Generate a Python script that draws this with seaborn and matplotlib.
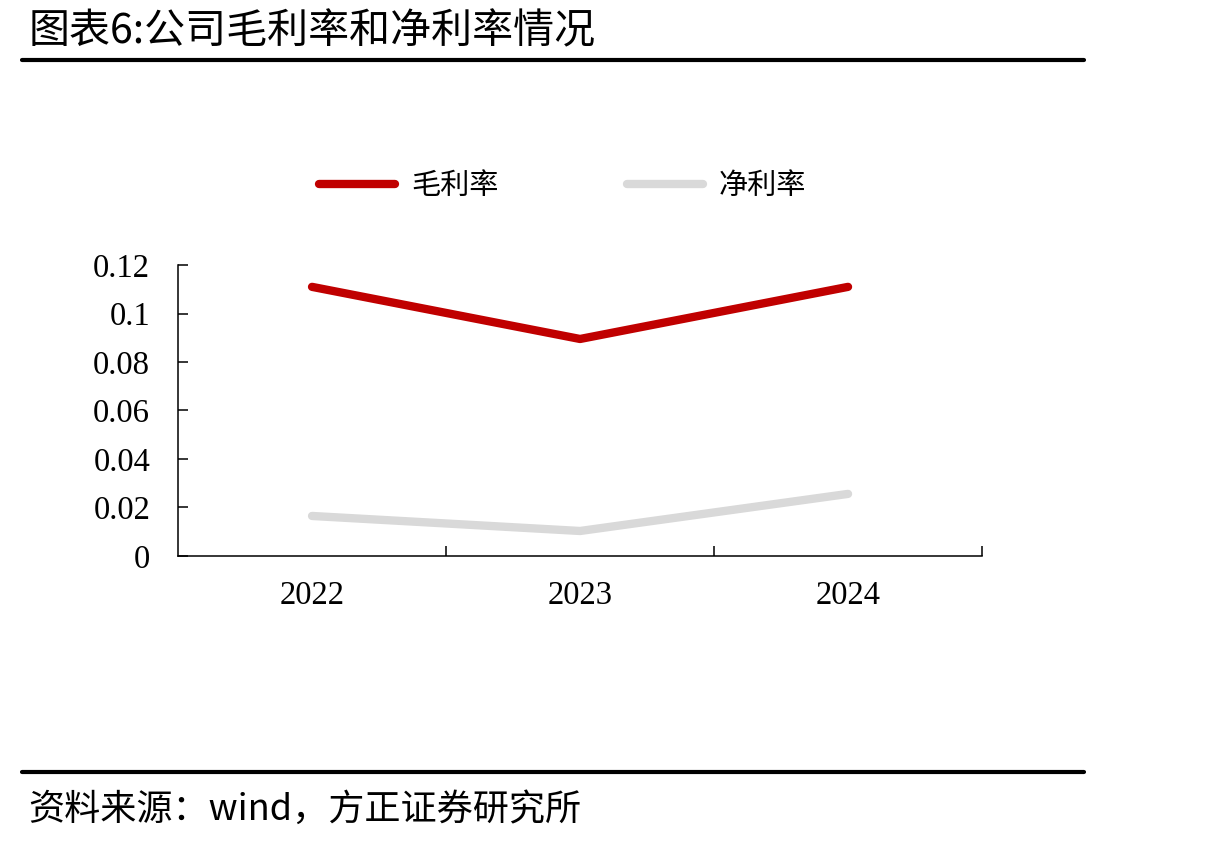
import matplotlib
matplotlib.use("Agg")
import matplotlib.pyplot as plt
import seaborn as sns
import pandas as pd
from matplotlib.lines import Line2D

years = ["2022", "2023", "2024"]
gross_margin = [0.111, 0.0895, 0.111]
net_margin = [0.0165, 0.0103, 0.0256]
series_names = ["毛利率", "净利率"]
colors = ["#C00000", "#D9D9D9"]
yticks = [0, 0.02, 0.04, 0.06, 0.08, 0.1, 0.12]
ytick_labels = ["0", "0.02", "0.04", "0.06", "0.08", "0.1", "0.12"]

title = "图表6:公司毛利率和净利率情况"
source = "资料来源：wind，方正证券研究所"

sns.set_style("white")
plt.rcParams['font.family'] = ['Noto Sans CJK SC', 'DejaVu Sans']
plt.rcParams['text.color'] = 'black'
plt.rcParams['xtick.color'] = 'black'
plt.rcParams['ytick.color'] = 'black'
plt.rcParams['xtick.labelcolor'] = 'black'
plt.rcParams['ytick.labelcolor'] = 'black'

df = pd.DataFrame({
    "year": years * 2,
    "value": gross_margin + net_margin,
    "series": [series_names[0]] * 3 + [series_names[1]] * 3,
})

fig = plt.figure(figsize=(12.21, 8.43), dpi=100)
ax = fig.add_axes([0.1458, 0.3405, 0.8043 - 0.1458, 0.6856 - 0.3405])

sns.lineplot(data=df, x="year", y="value", hue="series",
             palette=dict(zip(series_names, colors)), linewidth=6,
             ax=ax, legend=False, sort=False)
for ln in ax.get_lines():
    ln.set_solid_capstyle("round")
    ln.set_solid_joinstyle("round")

ax.set_xlim(-0.5, 2.5)
ax.set_ylim(0, 0.12)
ax.set_xlabel("")
ax.set_ylabel("")
ax.set_yticks(yticks)
ax.set_yticklabels(ytick_labels, fontfamily="Liberation Serif", fontsize=23.5, color="black")
ax.set_xticks(range(len(years)))
ax.set_xticklabels(years, fontfamily="Liberation Serif", fontsize=23.5, color="black")
ax.set_xticks([0.5, 1.5, 2.5], minor=True)
ax.tick_params(axis="x", which="major", length=0, pad=18, bottom=True)
ax.tick_params(axis="x", which="minor", direction="in", length=7, width=1.1,
               color="black", bottom=True)
ax.tick_params(axis="y", direction="in", length=7, width=1.1, color="black", pad=20, left=True)
for s in ["top", "right"]:
    ax.spines[s].set_visible(False)
for s in ["left", "bottom"]:
    ax.spines[s].set_color("black")
    ax.spines[s].set_linewidth(1.1)

handles = [Line2D([0], [0], color=c, lw=6, solid_capstyle="round") for c in colors]
fig.legend(handles, series_names, loc="center", bbox_to_anchor=(0.461, 0.779),
           ncol=2, frameon=False, fontsize=21, handlelength=2.6,
           handletextpad=0.55, columnspacing=4.4, labelcolor="black")

fig.text(0.023, 1 - 32 / 843, title, fontsize=29.5, va="center", ha="left", color="black")
fig.add_artist(Line2D([0.018, 0.888], [1 - 60 / 843] * 2, color="black", lw=3,
                      transform=fig.transFigure))
fig.add_artist(Line2D([0.018, 0.888], [1 - 772 / 843] * 2, color="black", lw=3,
                      transform=fig.transFigure))
fig.text(0.023, 1 - 810 / 843, source, fontsize=26, va="center", ha="left", color="black")

fig.savefig("out.png", dpi=100)
